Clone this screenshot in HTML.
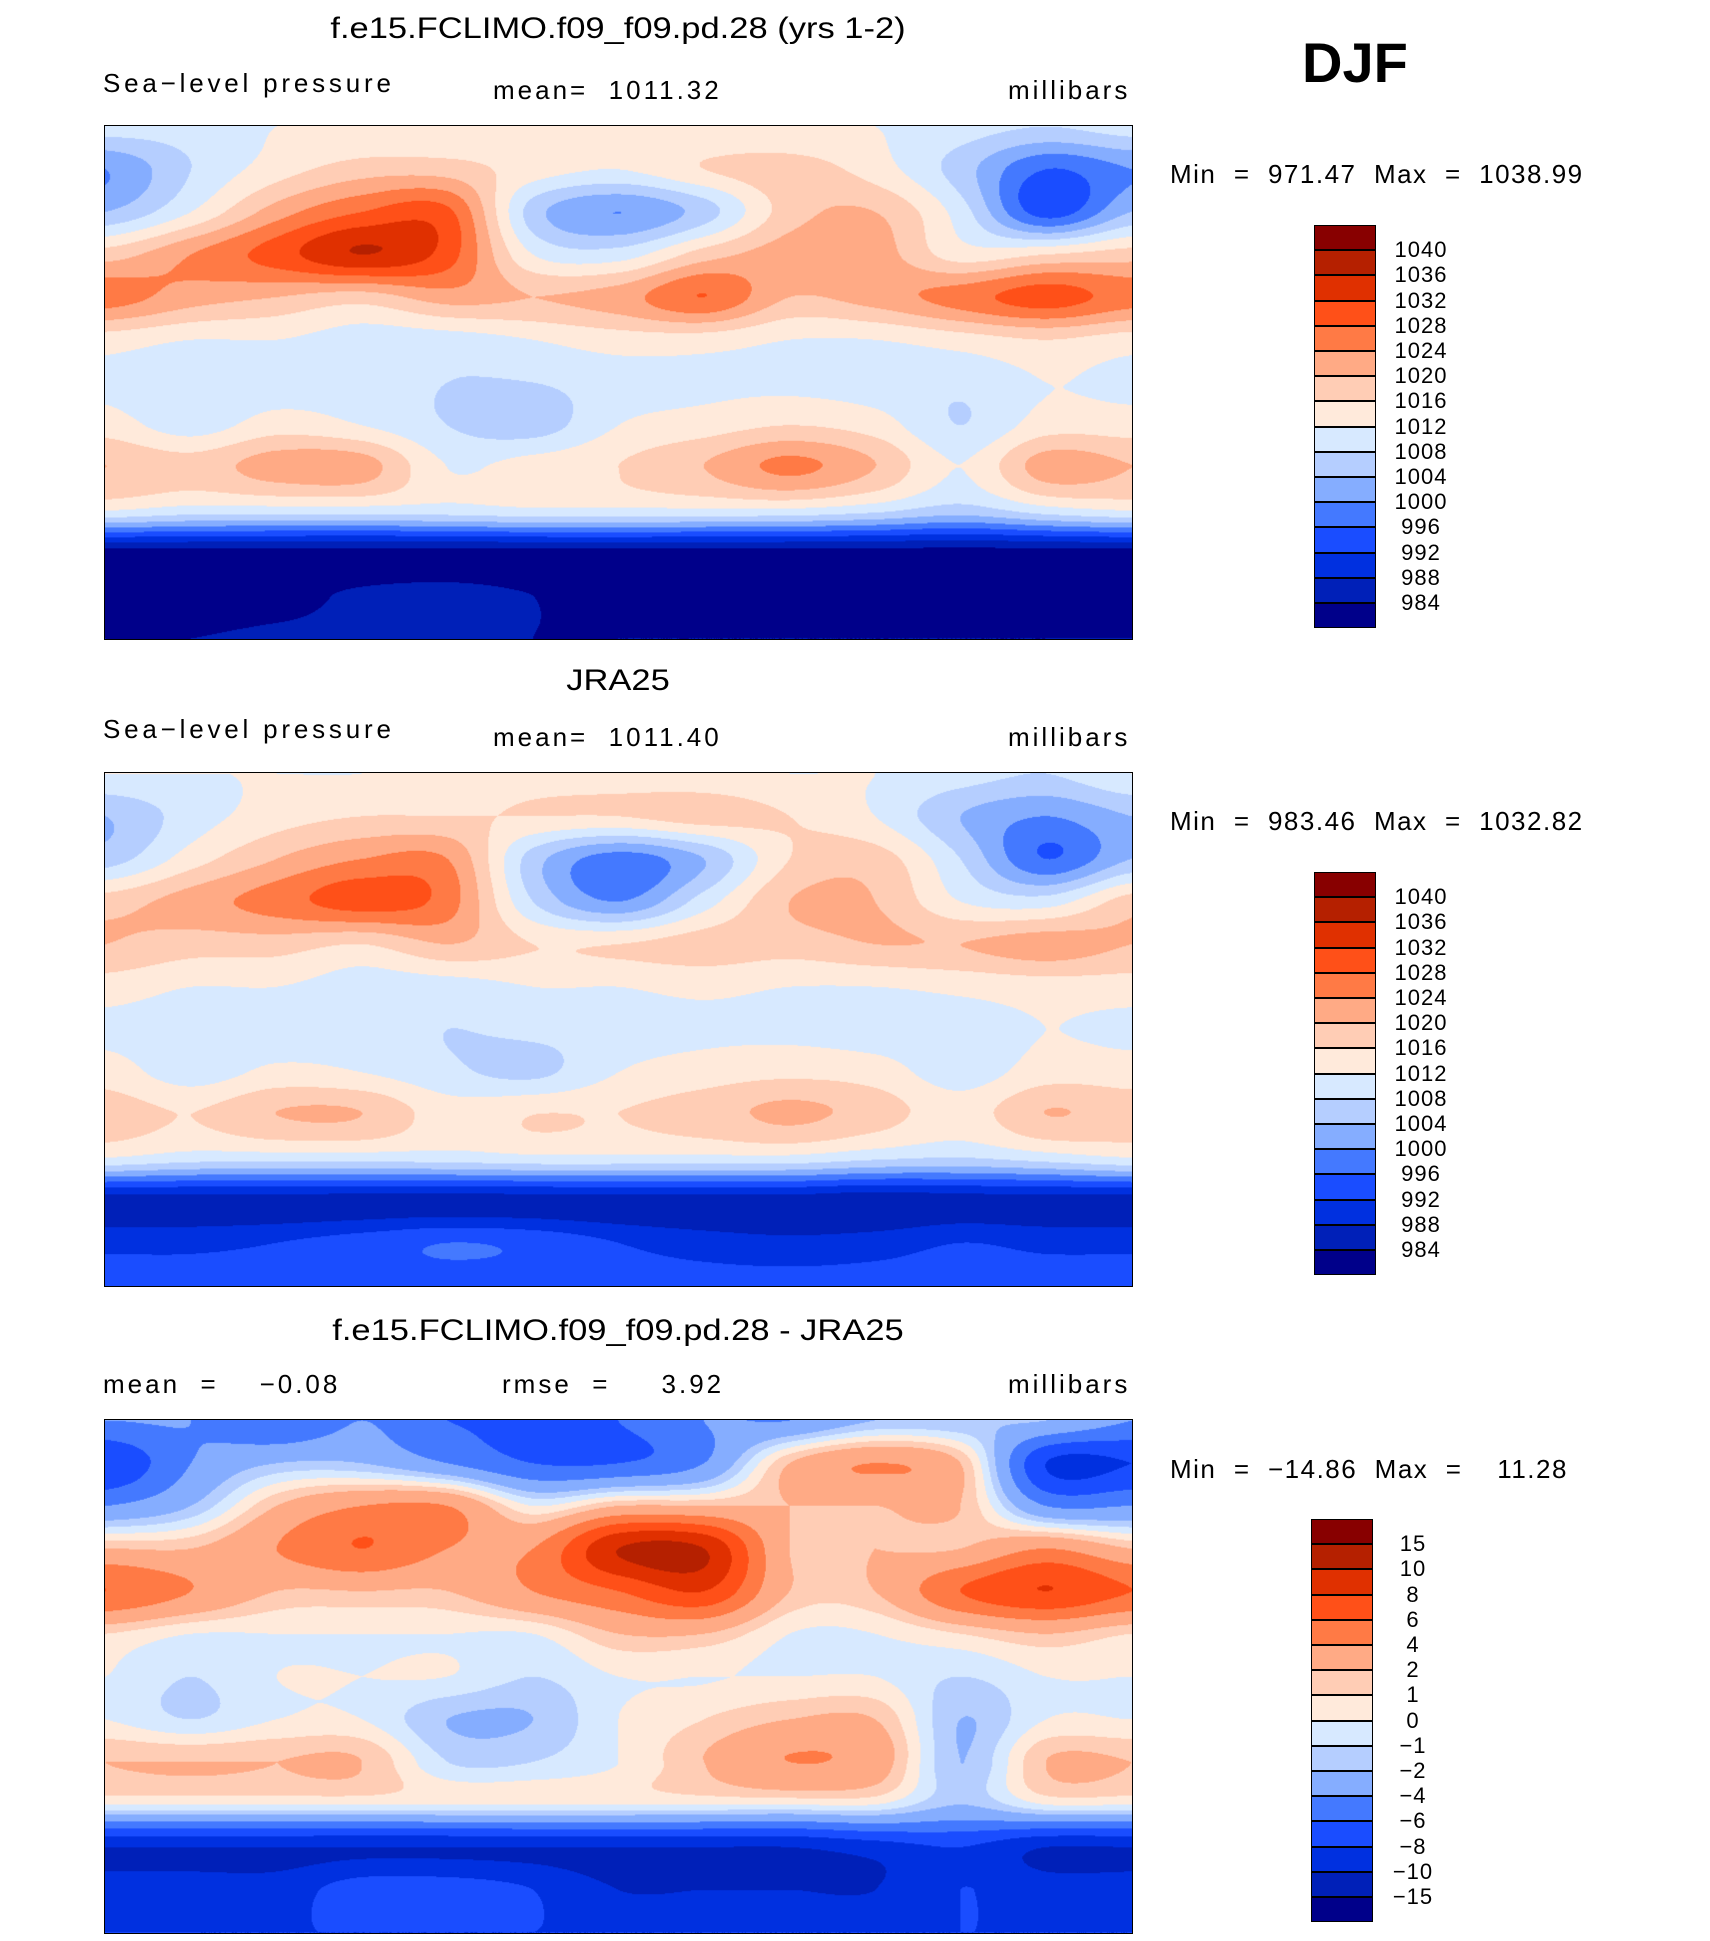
<!DOCTYPE html>
<html><head><meta charset="utf-8">
<style>
body{margin:0;background:#fff;width:1710px;height:1941px;position:relative;overflow:hidden;font-family:"Liberation Sans",sans-serif;color:#000}
.t{position:absolute;white-space:pre}
.title{font-size:30px;transform:translateX(-50%) scaleX(1.15)}
.sub{font-size:26px;letter-spacing:3px}
.mm{letter-spacing:1.5px}
canvas.map{position:absolute;border:1.5px solid #000;box-sizing:border-box}
.cb{position:absolute}
</style></head><body>
<div class="t" style="left:1302px;top:30px;font-size:56px;font-weight:bold">DJF</div>

<div class="t title" style="left:618px;top:12px">f.e15.FCLIMO.f09_f09.pd.28 (yrs 1-2)</div>
<div class="t sub" style="left:103px;top:68px;letter-spacing:3.8px">Sea−level pressure</div>
<div class="t sub" style="left:493px;top:75px">mean=  1011.32</div>
<div class="t sub" style="left:1008px;top:75px">millibars</div>
<div class="t sub mm" style="left:1170px;top:159px">Min  =  971.47  Max  =  1038.99</div>

<div class="t title" style="left:618px;top:664px">JRA25</div>
<div class="t sub" style="left:103px;top:714px;letter-spacing:3.8px">Sea−level pressure</div>
<div class="t sub" style="left:493px;top:722px">mean=  1011.40</div>
<div class="t sub" style="left:1008px;top:722px">millibars</div>
<div class="t sub mm" style="left:1170px;top:806px">Min  =  983.46  Max  =  1032.82</div>

<div class="t title" style="left:618px;top:1314px">f.e15.FCLIMO.f09_f09.pd.28 - JRA25</div>
<div class="t sub" style="left:103px;top:1369px">mean  =    −0.08</div>
<div class="t sub" style="left:502px;top:1369px">rmse  =     3.92</div>
<div class="t sub" style="left:1008px;top:1369px">millibars</div>
<div class="t sub mm" style="left:1170px;top:1454px">Min  =  −14.86  Max  =    11.28</div>

<canvas class="map" id="m1" width="1029" height="515" style="left:104px;top:125px;width:1029px;height:515px"></canvas>
<canvas class="map" id="m2" width="1029" height="515" style="left:104px;top:772px;width:1029px;height:515px"></canvas>
<canvas class="map" id="m3" width="1029" height="515" style="left:104px;top:1419px;width:1029px;height:515px"></canvas>

<div id="cb1" class="cb"></div>
<div id="cb2" class="cb"></div>
<div id="cb3" class="cb"></div>

<script>
// grid: rows lat 90..-90 step 15, cols lon 0..360 step 30
const slpLevels=[984,988,992,996,1000,1004,1008,1012,1016,1020,1024,1028,1032,1036,1040];
const diffLevels=[-15,-10,-8,-6,-4,-2,-1,0,1,2,4,6,8,10,15];
const slpLabels=["1040","1036","1032","1028","1024","1020","1016","1012","1008","1004","1000","996","992","988","984"];
const diffLabels=["15","10","8","6","4","2","1","0","−1","−2","−4","−6","−8","−10","−15"];
const palette=["#00008a","#0020b8","#0030e0","#1a4dff","#4479ff","#85adff","#b5ceff","#d7e9ff","#ffeadb","#ffcdb5","#ffaa85","#ff7a45","#ff5018","#e03000","#b52000","#880000"];

const modelGrid=[
[1010,1010,1012,1012,1012,1012,1012,1012,1012,1012,1010,1008,1010],
[1000,1008,1014,1018,1018,1014,1012,1016,1018,1014,1006,996,1000],
[1004,1012,1022,1028,1029,1006,1000,1006,1018,1020,1010,994,1004],
[1018,1024,1030,1036,1030,1012,1010,1018,1022,1022,1014,1016,1018],
[1026,1022,1020,1018,1022,1020,1022,1028,1020,1022,1026,1030,1026],
[1014,1012,1012,1010,1010,1012,1014,1014,1012,1012,1014,1016,1014],
[1011,1009,1010,1010,1008,1008,1010,1011,1011,1010,1009,1012,1011],
[1014,1010,1014,1012,1008,1006,1012,1014,1016,1014,1008,1014,1014],
[1020,1018,1022,1022,1012,1014,1016,1020,1025,1020,1012,1022,1020],
[1012,1010,1010,1010,1010,1011,1011,1011,1011,1009,1006,1010,1012],
[982,982,982,982,982,982,982,982,982,982,982,982,982],
[983,981,982,985,986,984,982,981,982,982,983,983,983],
[984,984,985,985,985,984,984,984,984,984,984,984,984]];

const jraGrid=[
[1012,1012,1012,1012,1013,1014,1014,1013,1012,1012,1010,1008,1012],
[1004,1010,1014,1016,1016,1016,1016,1018,1016,1012,1004,1000,1004],
[1006,1014,1020,1024,1024,1006,998,1004,1016,1018,1008,996,1004],
[1018,1022,1026,1030,1026,1008,1000,1010,1020,1020,1012,1010,1018],
[1020,1018,1018,1016,1020,1016,1016,1018,1018,1020,1020,1022,1020],
[1014,1012,1012,1010,1010,1012,1012,1013,1012,1012,1013,1014,1014],
[1011,1010,1010,1010,1008,1009,1010,1011,1011,1010,1010,1012,1011],
[1014,1010,1013,1012,1009,1007,1012,1014,1015,1014,1010,1014,1014],
[1018,1016,1020,1020,1014,1016,1016,1018,1021,1018,1014,1020,1018],
[1012,1010,1010,1010,1010,1011,1011,1011,1011,1009,1008,1010,1012],
[986,986,986,986,986,986,986,986,986,985,986,986,986],
[991,991,992,994,996,995,992,990,989,990,992,991,991],
[994,994,994,994,994,994,994,994,994,994,994,994,994]];

const diffGrid=[
[-4,-4,-6,-4,-6,-6,-6,-4,-4,-2,-2,-2,-4],
[-8,-4,-2,-2,-4,-6,-6,-4,2,4,2,-8,-8],
[-4,-2,2,4,4,0,2,2,2,2,2,-4,-4],
[2,2,4,6,4,4,10,10,2,2,2,4,2],
[6,4,2,2,2,4,6,8,2,2,6,8,6],
[1,0,0,0,0,0,2,2,0,0,1,2,1],
[0,-1,0,0,0,-1,0,0,0,0,-1,0,0],
[0,-1,0,0,-2,-2,0,1,2,2,-2,0,0],
[2,2,2,2,-1,-1,0,2,4,3,-2,2,2],
[0,0,0,0,0,0,0,0,0,0,-2,0,0],
[-10,-10,-10,-10,-10,-10,-10,-10,-10,-9,-8,-10,-10],
[-9,-9,-9,-7,-7,-8,-10,-10,-10,-10,-8,-9,-9],
[-8,-8,-8,-8,-8,-8,-8,-8,-8,-8,-8,-8,-8]];

function cr(p0,p1,p2,p3,t){return 0.5*((2*p1)+(-p0+p2)*t+(2*p0-5*p1+4*p2-p3)*t*t+(-p0+3*p1-3*p2+p3)*t*t*t);}
function sample(g,r,c){
  const R=g.length,C=g[0].length;
  const i=Math.min(Math.floor(r),R-2),j=Math.min(Math.floor(c),C-2);
  const tr=r-i,tc=c-j,rows=[];
  for(let k=-1;k<=2;k++){
    const ri=Math.max(0,Math.min(R-1,i+k)),row=g[ri];
    const q=n=>row[Math.max(0,Math.min(C-1,n))];
    rows.push(cr(q(j-1),q(j),q(j+1),q(j+2),tc));
  }
  return cr(rows[0],rows[1],rows[2],rows[3],tr);
}
function hex(h){return [parseInt(h.slice(1,3),16),parseInt(h.slice(3,5),16),parseInt(h.slice(5,7),16)];}
const pal=palette.map(hex);
function drawMap(id,g,levels){
  const cv=document.getElementById(id),ctx=cv.getContext('2d');
  const W=cv.width,H=cv.height,img=ctx.createImageData(W,H);
  const R=g.length-1,C=g[0].length-1;
  for(let y=0;y<H;y++){const r=y/(H-1)*R;
    for(let x=0;x<W;x++){const v=sample(g,r,x/(W-1)*C);
      let k=0;while(k<levels.length&&v>=levels[k])k++;
      const col=pal[k],o=(y*W+x)*4;
      img.data[o]=col[0];img.data[o+1]=col[1];img.data[o+2]=col[2];img.data[o+3]=255;}}
  ctx.putImageData(img,0,0);
}
function drawBar(id,left,top,labels,lx){
  const bh=25.2,bw=62;
  for(let i=0;i<16;i++){
    const b=document.createElement('div');
    
    
    b.style.cssText=`position:absolute;left:${left}px;top:${top+i*bh}px;width:${bw}px;height:${bh}px;background:${palette[15-i]};border:1.5px solid #000;box-sizing:border-box`;
    document.body.appendChild(b);
  }
  labels.forEach((s,i)=>{
    const t=document.createElement('div');
    
    
    t.textContent=s;
    t.style.cssText=`position:absolute;left:${lx}px;top:${top+(i+1)*bh-12}px;width:66px;text-align:center;font-size:22px;line-height:24px;letter-spacing:1px`;
    document.body.appendChild(t);
  });
}
drawMap('m1',modelGrid,slpLevels);
drawMap('m2',jraGrid,slpLevels);
drawMap('m3',diffGrid,diffLevels);
drawBar('cb1',1314,225,slpLabels,1388);
drawBar('cb2',1314,872,slpLabels,1388);
drawBar('cb3',1311,1519,diffLabels,1380);
</script>
</body></html>
